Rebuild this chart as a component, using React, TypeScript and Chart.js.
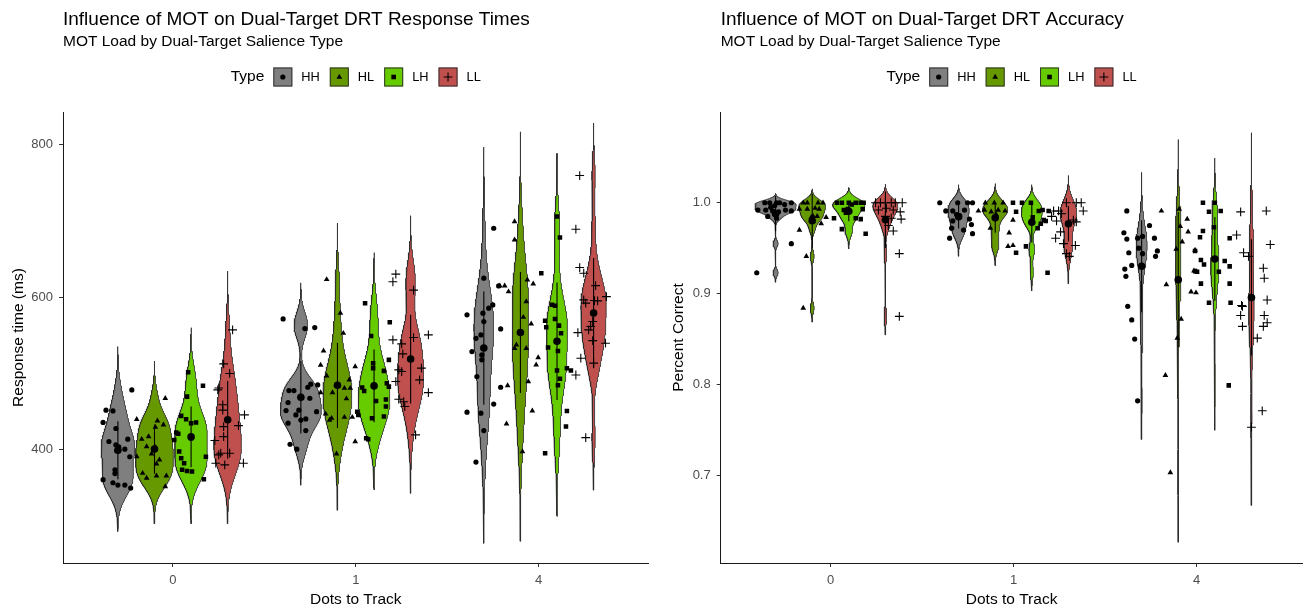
import { useEffect, useRef } from 'react';
import { Chart, registerables } from 'chart.js';

Chart.register(...registerables);

// ---------------- categories, ticks ----------------
const GROUP_LABELS = ['0', '1', '4'];
const TYPES = ['HH', 'HL', 'LH', 'LL'];
const RT_TICKS = [400, 600, 800];
const RT_TICK_LABELS = ['400', '600', '800'];
const ACC_TICKS = [0.7, 0.8, 0.9, 1.0];
const ACC_TICK_LABELS = ['0.7', '0.8', '0.9', '1.0'];
const RT_RANGE = [252, 842];
const ACC_RANGE = [0.6035, 1.0998];

// ---------------- Response time (ms): per type, per MOT load (0, 1, 4) ----------------
const RT_HH = [
  [478.5, 452, 451, 436, 428, 411, 414, 406.5, 404, 399, 401, 391, 374, 369, 361, 357, 354, 354, 350],
  [571.4, 558.7, 560, 477.6, 477.6, 486, 482, 485, 467.6, 462, 452, 451.5, 450, 445.8, 439, 440.5, 435, 425.3, 407.4, 401],
  [690, 624.7, 614.6, 576.7, 578.9, 585.4, 589.7, 567.9, 558.3, 546, 550.5, 528.6, 524.3, 517.8, 495.9, 482, 460, 449.3, 448, 425.3, 384],
];
const RT_HL = [
  [467.6, 438, 429.7, 432.7, 417.4, 414, 404.3, 403.5, 394.8, 391.3, 387, 381.7, 369.5, 363, 366, 366, 352, 440],
  [623, 578.9, 552.7, 529.5, 511, 509, 497, 491.6, 475, 480.7, 480.7, 467, 475, 447, 441.5, 439, 442.8, 442.8, 394.8, 410.9],
  [698.8, 674.8, 614.6, 614.6, 607, 622.5, 617.2, 594, 573.6, 564.9, 533, 537.4, 533, 520.8, 511.2, 489.4, 484.1, 451, 434, 397.8],
];
const RT_LH = [
  [501.7, 484, 469.7, 444.5, 440, 435.7, 435, 422.7, 421, 413, 415.3, 391, 397.8, 389, 382.6, 374, 372.5, 371.6, 361.6],
  [592, 567, 549, 517.8, 513.5, 507, 503.4, 487.3, 481.5, 477, 450, 445.8, 464, 466, 456.7, 443.6, 441.5, 482.8, 415.3, 414],
  [705.3, 677.8, 631.2, 590, 588.7, 571.4, 569, 560.5, 562.6, 552.6, 533.9, 529.5, 503.8, 506.8, 503.8, 493, 484.6, 451, 430.5, 395.6],
];
const RT_LL = [
  [557, 512.5, 500, 478.5, 481, 459, 452, 445.8, 431.8, 430.5, 417.4, 412.2, 395.7, 393.5, 395.7, 382.6, 380.4, 382.6],
  [630, 620, 609, 544, 547, 550.5, 538.7, 525.6, 504.7, 502.5, 489.4, 507, 491.6, 475, 466.3, 463, 456.7, 419.6],
  [759, 688.8, 638.6, 631.2, 615, 596.3, 592, 595.4, 595, 600.6, 568, 561.5, 557, 553.5, 543, 539.6, 520, 498, 513.5, 416],
];

// horizontal jitter of each point (category units)
const RT_HH_JIT = [
  [0.076, -0.065, -0.027, -0.081, -0.011, -0.049, 0.054, -0.011, 0.005, -0.005, 0.038, 0.065, -0.016, -0.016, -0.081, -0.027, 0, 0.038, 0.070],
  [-0.097, 0.022, 0.076, -0.065, -0.038, 0.054, 0.038, 0.092, 0.049, -0.070, -0.011, -0.081, 0.086, -0.027, 0, 0.027, -0.070, 0.027, -0.059, -0.022],
  [0.054, 0, 0.081, -0.092, -0.005, 0.027, 0.049, 0, 0.092, -0.043, -0.016, -0.065, -0.011, -0.011, -0.038, 0.092, 0.054, -0.092, -0.016, 0, -0.043],
];
const RT_HL_JIT = [
  [0.059, 0.016, 0.005, 0.049, -0.032, -0.070, -0.043, 0.005, -0.016, -0.097, 0.027, 0.011, -0.065, -0.043, 0.011, 0.065, 0.059, -0.097],
  [-0.059, 0.016, 0.032, -0.076, -0.092, 0.097, -0.059, 0.065, -0.027, 0.038, 0.070, 0.049, -0.092, -0.065, -0.032, -0.043, 0.038, 0.081, -0.005, 0.097],
  [-0.032, -0.032, -0.113, -0.086, -0.065, 0.038, 0.070, 0.032, 0.016, 0.059, -0.032, -0.022, 0.032, 0.097, 0.086, 0.043, -0.070, 0.065, -0.076, 0.011],
];
const RT_LH_JIT = [
  [-0.016, 0.065, -0.022, -0.054, -0.027, 0.027, 0, -0.081, -0.070, -0.092, 0, 0.081, -0.065, -0.054, -0.038, -0.049, -0.022, 0.005, 0.070],
  [-0.049, 0.086, -0.016, 0.081, -0.005, -0.005, 0.054, 0.070, -0.065, -0.054, -0.092, -0.086, 0.011, 0.065, 0.065, 0.054, -0.011, 0.081, -0.043, -0.032],
  [0, 0.016, -0.086, -0.027, -0.011, -0.011, -0.065, -0.059, 0.011, 0.022, -0.049, 0.005, 0, 0.054, 0.076, 0.016, 0.005, 0.054, 0.049, -0.065],
];
const RT_LL_JIT = [
  [0.027, -0.022, 0.011, -0.054, -0.049, -0.027, -0.027, 0.092, 0.059, -0.022, -0.022, -0.070, -0.038, -0.049, 0.011, 0.086, -0.016, -0.065],
  [-0.081, -0.097, 0.016, -0.097, 0.016, 0.097, -0.049, -0.043, -0.065, -0.049, -0.081, 0.059, 0.049, 0.097, -0.065, -0.038, -0.032, 0.027],
  [-0.076, -0.097, -0.076, -0.054, 0.011, -0.054, -0.043, 0.005, 0.022, 0.070, -0.005, -0.016, -0.027, -0.086, -0.005, 0.065, -0.070, -0.097, 0, -0.043],
];

// ---------------- Accuracy (proportion correct) ----------------
const ACC_HH = [
  [1.0, 1.0, 1.0, 1.0, 1.0, 0.998, 0.997, 0.995, 0.992, 0.992, 0.992, 0.991, 0.991, 0.990, 0.985, 0.983, 0.955, 0.923],
  [1.0, 1.0, 1.0, 1.0, 0.992, 0.991, 0.991, 0.987, 0.986, 0.982, 0.980, 0.976, 0.972, 0.970, 0.966, 0.961],
  [0.991, 0.975, 0.967, 0.963, 0.961, 0.961, 0.960, 0.950, 0.947, 0.945, 0.944, 0.941, 0.931, 0.927, 0.919, 0.886, 0.871, 0.850, 0.782],
];
const ACC_HL = [
  [1.0, 1.0, 1.0, 1.0, 0.993, 0.993, 0.994, 0.993, 0.984, 0.985, 0.985, 0.977, 0.984, 0.970, 0.941, 0.884],
  [1.0, 1.0, 1.0, 0.991, 0.992, 0.990, 0.992, 0.991, 0.987, 0.972, 0.981, 0.967, 0.952, 0.953],
  [0.991, 0.993, 0.982, 0.974, 0.968, 0.957, 0.949, 0.948, 0.925, 0.924, 0.910, 0.902, 0.901, 0.872, 0.851, 0.810, 0.703],
];
const ACC_LH = [
  [1.0, 1.0, 1.0, 1.0, 1.0, 1.0, 0.998, 0.993, 0.993, 0.992, 0.989, 0.983, 0.983, 0.982, 0.971, 0.966],
  [1.0, 1.0, 1.0, 0.992, 0.991, 0.991, 0.990, 0.984, 0.981, 0.980, 0.977, 0.972, 0.952, 0.945, 0.923],
  [1.0, 1.0, 0.991, 0.990, 0.973, 0.969, 0.962, 0.961, 0.947, 0.937, 0.936, 0.932, 0.930, 0.925, 0.924, 0.924, 0.911, 0.911, 0.890, 0.890, 0.799],
];
const ACC_LL = [
  [1.0, 1.0, 1.0, 1.0, 1.0, 1.0, 0.994, 0.992, 0.992, 0.990, 0.985, 0.983, 0.982, 0.975, 0.969, 0.944, 0.875],
  [1.0, 1.0, 1.0, 0.991, 0.991, 0.991, 0.988, 0.985, 0.981, 0.980, 0.979, 0.968, 0.961, 0.955, 0.953, 0.944, 0.941],
  [0.990, 0.991, 0.9645, 0.954, 0.945, 0.941, 0.928, 0.917, 0.893, 0.887, 0.886, 0.876, 0.876, 0.868, 0.864, 0.864, 0.851, 0.771, 0.753],
];

const ACC_HH_JIT = [
  [-0.059, 0.005, 0.022, 0.086, -0.032, 0.049, -0.005, -0.027, -0.097, -0.054, 0.054, -0.016, 0.086, 0.016, -0.043, 0.005, 0.086, -0.103],
  [-0.103, -0.005, 0.076, 0.049, 0.032, -0.070, -0.032, -0.011, 0.005, 0.059, -0.032, 0.070, -0.038, 0.027, 0.076, -0.049],
  [-0.081, 0.043, -0.097, 0.005, -0.022, 0.070, -0.081, -0.016, 0.086, -0.070, 0.005, 0.076, -0.054, -0.092, -0.086, -0.076, -0.054, -0.038, -0.022],
];
const ACC_HL_JIT = [
  [-0.049, -0.027, 0.032, 0.059, -0.070, -0.027, 0.016, 0.038, -0.005, 0.005, 0.027, 0.049, 0.076, -0.070, -0.032, -0.049],
  [-0.054, -0.005, 0.043, -0.092, -0.059, -0.022, 0.016, 0.054, 0.005, -0.027, 0.097, 0.076, 0.070, 0.097],
  [-0.092, 0.005, 0.049, 0.011, 0.054, 0.022, -0.011, 0.092, 0.086, 0.097, -0.065, 0.070, 0.097, 0.016, -0.005, -0.070, -0.043],
];
const ACC_LH_JIT = [
  [-0.065, -0.038, 0, 0.038, 0.065, 0.081, 0.016, -0.005, 0.076, -0.027, -0.016, 0.038, -0.081, 0.065, -0.038, 0.092],
  [-0.103, -0.054, -0.005, 0.059, 0.038, 0.092, -0.086, 0.005, 0.065, 0.076, 0.049, 0.032, -0.032, -0.086, 0.086],
  [-0.065, 0, 0.032, -0.032, -0.005, -0.065, -0.081, 0.081, -0.108, -0.076, 0.054, -0.059, 0.081, -0.108, -0.097, 0.022, -0.076, 0.081, -0.032, 0.086, 0.076],
];
const ACC_LL_JIT = [
  [-0.054, -0.027, 0, 0.032, 0.054, 0.092, 0.005, -0.038, 0.043, 0.081, 0, 0.032, 0.086, 0.016, 0.043, 0.076, 0.076],
  [-0.011, 0.043, 0.070, -0.081, -0.054, 0.081, -0.038, -0.092, 0.027, -0.065, 0.043, -0.043, -0.070, -0.027, 0.038, -0.011, 0.005],
  [-0.059, 0.081, -0.081, 0.103, -0.043, -0.016, 0.065, 0.070, 0.086, -0.054, -0.049, -0.059, 0.070, 0.086, -0.049, 0.065, 0.032, 0.059, 0],
];

// ---------------- styling ----------------
const FONT = '"Liberation Sans", Arial, Helvetica, sans-serif';
const TYPE_COLORS = ['#7F7F7F', '#669900', '#66CC00', '#C0504D'];
const TYPE_SHAPES = ['circle', 'triangle', 'rect', 'cross'];
const SHAPE_R = [2.6, 3.3, 3.2, 4.4];
const DODGE = [-0.3, -0.1, 0.1, 0.3];
const HALF_W = 0.1125;

// ---------------- statistics (ggplot-like violin) ----------------
function mean(a: number[]) {
  return a.reduce((s, v) => s + v, 0) / a.length;
}
function sd(a: number[]) {
  const m = mean(a);
  return Math.sqrt(a.reduce((s, v) => s + (v - m) * (v - m), 0) / (a.length - 1));
}
function q7(sorted: number[], p: number) {
  const h = (sorted.length - 1) * p;
  const lo = Math.floor(h);
  const hi = Math.min(lo + 1, sorted.length - 1);
  return sorted[lo] + (h - lo) * (sorted[hi] - sorted[lo]);
}
function nrd0(a: number[]) {
  const s = [...a].sort((x, y) => x - y);
  const hi = sd(a);
  const iqr = q7(s, 0.75) - q7(s, 0.25);
  let lo = Math.min(hi, iqr / 1.34);
  if (!(lo > 0)) lo = hi || Math.abs(s[0]) || 1;
  return 0.9 * lo * Math.pow(a.length, -0.2);
}
function kde(a: number[], n = 512) {
  const bw = nrd0(a);
  const lo = Math.min(...a) - 3 * bw;
  const hi = Math.max(...a) + 3 * bw;
  const ys: number[] = [];
  const ds: number[] = [];
  const k = 1 / (a.length * bw * Math.sqrt(2 * Math.PI));
  for (let i = 0; i < n; i++) {
    const y = lo + ((hi - lo) * i) / (n - 1);
    let d = 0;
    for (const v of a) {
      const z = (y - v) / bw;
      d += Math.exp(-0.5 * z * z);
    }
    ys.push(y);
    ds.push(d * k);
  }
  return { ys, ds };
}

function buildDatasets(series: number[][][], jitters: number[][][]) {
  const dens = series.map((groups) => groups.map((vals) => kde(vals)));
  let gmax = 0;
  dens.forEach((gs) => gs.forEach((d) => d.ds.forEach((v) => { if (v > gmax) gmax = v; })));
  const violins: any[] = [];
  const lines: any[] = [];
  const means: any[] = [];
  const points: any[] = [];
  series.forEach((groups, t) => {
    const pts: any[] = [];
    groups.forEach((vals, g) => {
      const c = g + DODGE[t];
      const { ys, ds } = dens[t][g];
      const poly: any[] = [];
      for (let i = 0; i < ys.length; i++) poly.push({ x: c + (HALF_W * ds[i]) / gmax, y: ys[i] });
      for (let i = ys.length - 1; i >= 0; i--) poly.push({ x: c - (HALF_W * ds[i]) / gmax, y: ys[i] });
      violins.push({
        type: 'line', data: poly, fill: 'shape', backgroundColor: TYPE_COLORS[t],
        borderColor: '#2B2B2B', borderWidth: 0.8, pointRadius: 0, tension: 0, order: 20 - t,
      });
      const m = mean(vals);
      const s = sd(vals);
      lines.push({
        type: 'line', data: [{ x: c, y: m - s }, { x: c, y: m + s }], borderColor: '#000000',
        borderWidth: 1.1, pointRadius: 0, fill: false, order: 5,
      });
      means.push({ x: c, y: m });
      vals.forEach((v, i) => pts.push({ x: c + jitters[t][g][i], y: v }));
    });
    points.push({
      type: 'scatter', data: pts, pointStyle: TYPE_SHAPES[t], pointRadius: SHAPE_R[t],
      backgroundColor: '#000000', borderColor: '#000000', borderWidth: t === 3 ? 1.1 : 0, order: 0,
    });
  });
  const meanDs = {
    type: 'scatter', data: means, pointStyle: 'circle', pointRadius: 3.8,
    backgroundColor: '#000000', borderWidth: 0, order: 1,
  };
  return [...points, meanDs, ...lines, ...violins];
}

function drawMarker(ctx: CanvasRenderingContext2D, t: number, x: number, y: number) {
  ctx.fillStyle = '#000';
  ctx.strokeStyle = '#000';
  ctx.beginPath();
  if (t === 0) {
    ctx.arc(x, y, 2.6, 0, Math.PI * 2);
    ctx.fill();
  } else if (t === 1) {
    const r = 3.3;
    ctx.moveTo(x, y - r);
    ctx.lineTo(x + r * 0.866, y + r * 0.5);
    ctx.lineTo(x - r * 0.866, y + r * 0.5);
    ctx.closePath();
    ctx.fill();
  } else if (t === 2) {
    const s = 2.3;
    ctx.rect(x - s, y - s, 2 * s, 2 * s);
    ctx.fill();
  } else {
    ctx.lineWidth = 1.1;
    ctx.moveTo(x - 4.4, y);
    ctx.lineTo(x + 4.4, y);
    ctx.moveTo(x, y - 4.4);
    ctx.lineTo(x, y + 4.4);
    ctx.stroke();
  }
}

const legendPlugin = {
  id: 'typeLegend',
  afterDraw(chart: any) {
    const ctx: CanvasRenderingContext2D = chart.ctx;
    const area = chart.chartArea;
    const titleFont = `15.5px ${FONT}`;
    const labFont = `12.8px ${FONT}`;
    ctx.save();
    ctx.font = titleFont;
    const tw = ctx.measureText('Type').width;
    ctx.font = labFont;
    const lws = TYPES.map((t) => ctx.measureText(t).width);
    const KEY = 19, G1 = 9, G2 = 9, G3 = 10;
    const total = tw + G1 + TYPES.length * (KEY + G2) + lws.reduce((s, v) => s + v, 0) + (TYPES.length - 1) * G3;
    let x = (area.left + area.right) / 2 - total / 2;
    const cy = 77;
    ctx.textBaseline = 'middle';
    ctx.textAlign = 'left';
    ctx.fillStyle = '#000';
    ctx.font = titleFont;
    ctx.fillText('Type', x, cy);
    x += tw + G1;
    TYPES.forEach((t, i) => {
      ctx.fillStyle = TYPE_COLORS[i];
      ctx.fillRect(x, cy - KEY / 2, KEY, KEY);
      ctx.strokeStyle = '#333333';
      ctx.lineWidth = 1;
      ctx.strokeRect(x + 0.5, cy - KEY / 2 + 0.5, KEY - 1, KEY - 1);
      drawMarker(ctx, i, x + KEY / 2, cy);
      x += KEY + G2;
      ctx.fillStyle = '#000';
      ctx.font = labFont;
      ctx.fillText(t, x, cy);
      x += lws[i] + G3;
    });
    ctx.restore();
  },
};

function makeConfig(opts: {
  title: string; yTitle: string; datasets: any[]; yRange: number[]; yTicks: number[]; yLabels: string[];
  xMax: number; yWidth: number; yTitlePad: number; padRight: number;
}) {
  const tickFont = { family: FONT, size: 13 };
  return {
    type: 'scatter',
    data: { datasets: opts.datasets },
    options: {
      responsive: false,
      animation: false,
      devicePixelRatio: 1,
      events: [],
      layout: { padding: { top: 0, left: 0, right: opts.padRight, bottom: 0 } },
      plugins: {
        legend: { display: false },
        tooltip: { enabled: false },
        title: {
          display: true, text: opts.title, align: 'start', fullSize: false, color: '#000000',
          font: { family: FONT, size: 19, weight: 'normal' }, padding: { top: 8, bottom: 0 },
        },
        subtitle: {
          display: true, text: 'MOT Load by Dual-Target Salience Type', align: 'start', fullSize: false,
          color: '#000000', font: { family: FONT, size: 15.5, weight: 'normal' }, padding: { top: 2, bottom: 60.7 },
        },
      },
      scales: {
        x: {
          type: 'linear', min: -0.6, max: opts.xMax,
          afterBuildTicks: (s: any) => { s.ticks = GROUP_LABELS.map((_, i) => ({ value: i })); },
          afterFit: (s: any) => { s.height = 49; },
          ticks: {
            autoSkip: false, maxRotation: 0, color: '#4D4D4D', font: tickFont, padding: 6,
            callback: (_v: any, i: number) => GROUP_LABELS[i],
          },
          grid: { display: true, drawOnChartArea: false, drawTicks: true, tickLength: 4, color: '#333333', lineWidth: 1 },
          border: { display: true, color: '#1A1A1A', width: 1 },
          title: { display: true, text: 'Dots to Track', color: '#000000', font: { family: FONT, size: 15.5 }, padding: { top: 0, bottom: 3 } },
        },
        y: {
          type: 'linear', min: opts.yRange[0], max: opts.yRange[1],
          afterBuildTicks: (s: any) => { s.ticks = opts.yTicks.map((v) => ({ value: v })); },
          afterFit: (s: any) => { s.width = opts.yWidth; },
          ticks: {
            autoSkip: false, color: '#4D4D4D', font: tickFont, padding: 6,
            callback: (_v: any, i: number) => opts.yLabels[i],
          },
          grid: { display: true, drawOnChartArea: false, drawTicks: true, tickLength: 4, color: '#333333', lineWidth: 1 },
          border: { display: true, color: '#1A1A1A', width: 1 },
          title: { display: true, text: opts.yTitle, color: '#000000', font: { family: FONT, size: 15.5 }, padding: { top: opts.yTitlePad, bottom: 0 } },
        },
      },
    },
    plugins: [legendPlugin],
  } as any;
}

export default function App() {
  const leftRef = useRef<HTMLCanvasElement | null>(null);
  const rightRef = useRef<HTMLCanvasElement | null>(null);

  useEffect(() => {
    Chart.defaults.font.family = FONT;
    const rtSeries = [RT_HH, RT_HL, RT_LH, RT_LL];
    const rtJit = [RT_HH_JIT, RT_HL_JIT, RT_LH_JIT, RT_LL_JIT];
    const accSeries = [ACC_HH, ACC_HL, ACC_LH, ACC_LL];
    const accJit = [ACC_HH_JIT, ACC_HL_JIT, ACC_LH_JIT, ACC_LL_JIT];

    const left = new Chart(leftRef.current as HTMLCanvasElement, makeConfig({
      title: 'Influence of MOT on Dual-Target DRT Response Times',
      yTitle: 'Response time (ms)',
      datasets: buildDatasets(rtSeries, rtJit),
      yRange: RT_RANGE, yTicks: RT_TICKS, yLabels: RT_TICK_LABELS,
      xMax: 2.6, yWidth: 63, yTitlePad: 9, padRight: 4,
    }));
    const right = new Chart(rightRef.current as HTMLCanvasElement, makeConfig({
      title: 'Influence of MOT on Dual-Target DRT Accuracy',
      yTitle: 'Percent Correct',
      datasets: buildDatasets(accSeries, accJit),
      yRange: ACC_RANGE, yTicks: ACC_TICKS, yLabels: ACC_TICK_LABELS,
      xMax: 2.579, yWidth: 66.7, yTitlePad: 15.5, padRight: 0,
    }));
    return () => {
      left.destroy();
      right.destroy();
    };
  }, []);

  return (
    <div style={{ position: 'absolute', left: 0, top: 0, width: 1308, height: 612, background: '#ffffff', overflow: 'hidden' }}>
      <canvas ref={leftRef} width={654} height={612} style={{ position: 'absolute', left: 0, top: 0, width: 654, height: 612 }} />
      <canvas ref={rightRef} width={654} height={612} style={{ position: 'absolute', left: 654, top: 0, width: 654, height: 612 }} />
    </div>
  );
}
